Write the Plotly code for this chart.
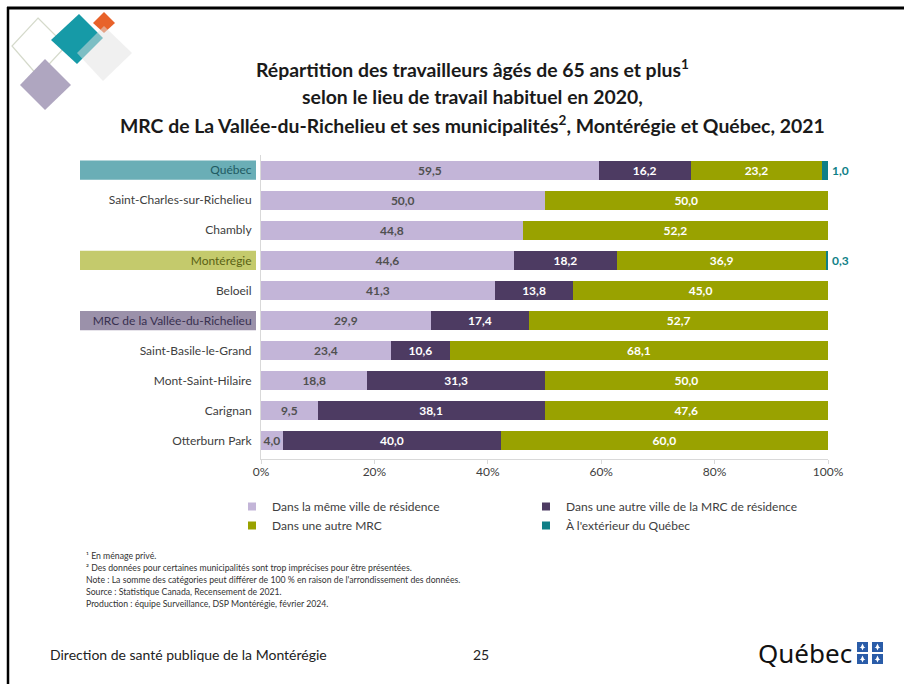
import plotly.graph_objects as go

# ---------------- data ----------------
categories = ["Québec", "Saint-Charles-sur-Richelieu", "Chambly", "Montérégie", "Beloeil",
              "MRC de la Vallée-du-Richelieu", "Saint-Basile-le-Grand", "Mont-Saint-Hilaire",
              "Carignan", "Otterburn Park"]
meme_ville = [59.5, 50.0, 44.8, 44.6, 41.3, 29.9, 23.4, 18.8, 9.5, 4.0]
autre_ville_mrc = [16.2, None, None, 18.2, 13.8, 17.4, 10.6, 31.3, 38.1, 40.0]
autre_mrc = [23.2, 50.0, 52.2, 36.9, 45.0, 52.7, 68.1, 50.0, 47.6, 60.0]
exterieur = [1.0, None, None, 0.3, None, None, None, None, None, None]
series_names = ["Dans la même ville de résidence", "Dans une autre ville de la MRC de résidence",
                "Dans une autre MRC", "À l'extérieur du Québec"]
x_ticks = [0, 20, 40, 60, 80, 100]
x_tick_labels = ["0%", "20%", "40%", "60%", "80%", "100%"]
highlighted = {"Québec": ("#6aaeb6", "#1f5a62"),
               "Montérégie": ("#c4ca6c", "#5a6214"),
               "MRC de la Vallée-du-Richelieu": ("#9b91aa", "#393050")}
note_lines = [
    "¹ En ménage privé.",
    "² Des données pour certaines municipalités sont trop imprécises pour être présentées.",
    "Note : La somme des catégories peut différer de 100 % en raison de l'arrondissement des données.",
    "Source : Statistique Canada, Recensement de 2021.",
    "Production : équipe Surveillance, DSP Montérégie, février 2024.",
]

# ---------------- styling ----------------
W, H = 904, 684
L, R, T, B = 261, 76, 155, 225
PW, PH = W - L - R, H - T - B
FONT = "Lato"
TXT = "#404040"
C_LAV, C_PUR, C_GRN, C_TEAL = "#c3b5d8", "#4d3b62", "#99a200", "#0f7f87"


def px(x):
    return (x - L) / PW


def py(y):
    return 1 - (y - T) / PH


def fmt(v):
    return None if v is None else f"{v:.1f}".replace(".", ",")


fig = go.Figure()

bar_specs = [
    (meme_ville, C_LAV, "#505050"),
    (autre_ville_mrc, C_PUR, "white"),
    (autre_mrc, C_GRN, "white"),
    (exterieur, C_TEAL, C_TEAL),
]
for i, ((vals, col, tcol), name) in enumerate(zip(bar_specs, series_names)):
    show_text = i < 3
    fig.add_trace(go.Bar(
        y=categories, x=vals, orientation="h", name=name,
        marker=dict(color=col, line=dict(width=0)),
        text=[fmt(v) for v in vals] if show_text else None,
        textposition="inside" if show_text else "none", insidetextanchor="middle",
        textfont=dict(color=tcol, size=12, family=FONT, weight="bold"),
        cliponaxis=False, showlegend=False, hoverinfo="skip",
    ))

# legend entries (small squares) in two columns
legend_cols = ["legend", "legend2", "legend", "legend2"]
for name, (vals, col, _), lg in zip(series_names, bar_specs, legend_cols):
    fig.add_trace(go.Scatter(
        x=[None], y=[None], xaxis="x2", mode="markers", name=name, legend=lg,
        marker=dict(symbol="square", size=8, color=col), hoverinfo="skip",
    ))

ticktext = []
for c in categories:
    if c in highlighted:
        ticktext.append(f"<span style='color:{highlighted[c][1]}'>{c}</span>")
    else:
        ticktext.append(c)

shapes = []
for i, c in enumerate(categories):
    if c in highlighted:
        shapes.append(dict(type="rect", xref="paper", yref="y", x0=px(80), x1=px(256),
                           y0=i - 0.32, y1=i + 0.32, fillcolor=highlighted[c][0],
                           line=dict(width=0), layer="below"))

# slide frame
shapes.append(dict(type="line", xref="paper", yref="paper", x0=px(7), x1=px(904),
                   y0=py(8), y1=py(8), line=dict(color="black", width=3)))
shapes.append(dict(type="line", xref="paper", yref="paper", x0=px(8), x1=px(8),
                   y0=py(7), y1=py(684), line=dict(color="black", width=2.5)))


def diamond(pts, fill, line_col=None, lw=0):
    path = "M " + " L ".join(f"{px(a)},{py(b)}" for a, b in pts) + " Z"
    return dict(type="path", xref="paper", yref="paper", path=path, fillcolor=fill,
                line=dict(color=line_col or "rgba(0,0,0,0)", width=lw), layer="above")


# decorative logo top-left
shapes.append(diamond([(38, 18), (66, 46), (38, 76), (12, 46)], "rgba(0,0,0,0)", "#d5dacb", 1.2))
shapes.append(diamond([(45, 59), (71, 85), (45, 110), (20, 85)], "#afa6c0"))
shapes.append(diamond([(79, 14), (103, 38), (77, 64), (51, 40)], "#169aa7"))
shapes.append(diamond([(104, 12), (115, 23), (104, 33), (93, 23)], "#e8622a"))
shapes.append(diamond([(104, 26), (132, 53), (103, 81), (77, 53)], "rgba(226,226,226,0.5)"))

# Québec logo flag squares, each with a small white fleur-de-lis mark
flag_cells = [(857, 642), (872, 642), (857, 654), (872, 654)]
for (x0, y0) in flag_cells:
    shapes.append(dict(type="rect", xref="paper", yref="paper", x0=px(x0), x1=px(x0 + 11),
                       y0=py(y0), y1=py(y0 + 10), fillcolor="#2a5ca8", line=dict(width=0)))
    cx, cy = x0 + 5.5, y0 + 5
    lis = (f"M {px(cx)},{py(cy - 3.5)} L {px(cx + 1.6)},{py(cy)} L {px(cx + 3)},{py(cy + 0.5)} "
           f"L {px(cx + 1)},{py(cy + 1.2)} L {px(cx)},{py(cy + 3.5)} L {px(cx - 1)},{py(cy + 1.2)} "
           f"L {px(cx - 3)},{py(cy + 0.5)} L {px(cx - 1.6)},{py(cy)} Z")
    shapes.append(dict(type="path", xref="paper", yref="paper", path=lis, fillcolor="white",
                       line=dict(width=0)))

annotations = []
# labels of the "outside Québec" series, at the end of each bar
for c, v in zip(categories, exterieur):
    if v is not None:
        annotations.append(dict(text=f"<b>{fmt(v)}</b>", x=100, y=c, xref="x", yref="y",
                                xanchor="left", yanchor="middle", xshift=2, showarrow=False,
                                font=dict(family=FONT, size=12, color=C_TEAL)))

title_lines = [
    ("Répartition des travailleurs âgés de 65 ans et plus<sup>1</sup>", 69),
    ("selon le lieu de travail habituel en 2020,", 97),
    ("MRC de La Vallée-du-Richelieu et ses municipalités<sup>2</sup>, Montérégie et Québec, 2021", 124),
]
for txt, yy in title_lines:
    annotations.append(dict(text=txt, xref="paper", yref="paper", x=px(472), y=py(yy),
                            xanchor="center", yanchor="middle", showarrow=False,
                            font=dict(family=FONT, size=19.4, color="#1a1a1a", weight="bold")))

for k, line in enumerate(note_lines):
    annotations.append(dict(text=line, xref="paper", yref="paper", x=px(84), y=py(555 + 12 * k),
                            xanchor="left", yanchor="middle", align="left", showarrow=False,
                            font=dict(family=FONT, size=8.7, color="#333333")))
annotations.append(dict(text="Direction de santé publique de la Montérégie", xref="paper", yref="paper",
                        x=px(48), y=py(654), xanchor="left", yanchor="middle", showarrow=False,
                        font=dict(family=FONT, size=14, color="#222222")))
annotations.append(dict(text="25", xref="paper", yref="paper", x=px(481), y=py(654),
                        xanchor="center", yanchor="middle", showarrow=False,
                        font=dict(family=FONT, size=14, color="#222222")))
annotations.append(dict(text="Québec", xref="paper", yref="paper", x=px(756), y=py(653),
                        xanchor="left", yanchor="middle", showarrow=False,
                        font=dict(family="Noto Sans", size=26, color="#111111")))

fig.update_layout(
    width=W, height=H,
    margin=dict(l=L, r=R, t=T, b=B, autoexpand=False),
    paper_bgcolor="white", plot_bgcolor="white",
    barmode="stack", barnorm="percent", bargap=0.37,
    uniformtext=dict(minsize=12, mode="show"),
    font=dict(family=FONT, size=12, color=TXT),
    xaxis=dict(range=[0, 100], tickvals=x_ticks, ticktext=x_tick_labels, showgrid=False,
               zeroline=False, showline=True, linecolor="#d9d9d9", linewidth=1,
               ticks="", ticklabelstandoff=2,
               tickfont=dict(family=FONT, size=12, color=TXT), fixedrange=True),
    xaxis2=dict(range=[0, 100], overlaying="x", anchor="y", side="bottom", tickvals=x_ticks,
                showticklabels=False, showgrid=False, zeroline=False, showline=False,
                ticks="outside", ticklen=4, tickcolor="#d9d9d9", fixedrange=True),
    yaxis=dict(type="category", categoryorder="array", categoryarray=categories,
               range=[9.6, -0.5], tickvals=categories, ticktext=ticktext,
               showgrid=False, zeroline=False, showline=True, linecolor="#d9d9d9",
               ticks="", ticklabelstandoff=6,
               tickfont=dict(family=FONT, size=12, color=TXT), fixedrange=True),
    legend=dict(x=px(232), xanchor="left", y=py(492), yanchor="top", orientation="v",
                traceorder="normal", bgcolor="rgba(0,0,0,0)",
                font=dict(family=FONT, size=12, color=TXT),
                tracegroupgap=0, itemclick=False, itemdoubleclick=False),
    legend2=dict(x=px(526), xanchor="left", y=py(492), yanchor="top", orientation="v",
                 traceorder="normal", bgcolor="rgba(0,0,0,0)",
                 font=dict(family=FONT, size=12, color=TXT),
                 tracegroupgap=0, itemclick=False, itemdoubleclick=False),
    shapes=shapes, annotations=annotations, showlegend=True,
)

fig.write_html("out.html", config={"displayModeBar": False},
               post_script="document.body.style.margin='0';"
                           "document.documentElement.style.overflow='hidden';")
